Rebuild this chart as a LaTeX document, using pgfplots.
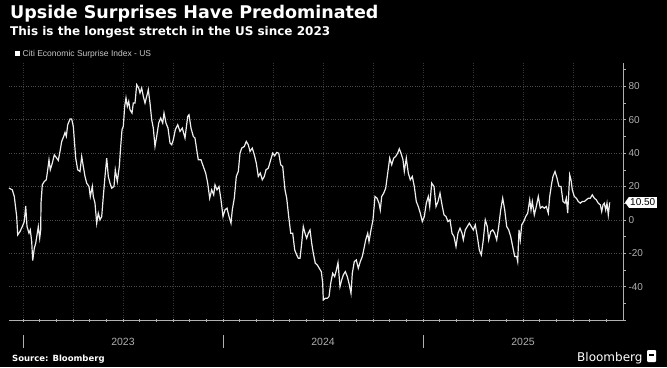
\documentclass[border=0pt]{standalone}
\usepackage{pgfplots}
\pgfplotsset{compat=1.18}
\usepackage{fontspec}
\setmainfont{Liberation Sans}
\newfontfamily\dejavu{DejaVu Sans}
\definecolor{hgridc}{HTML}{4A4A4A}
\definecolor{vgridc}{HTML}{353535}
\definecolor{tickc}{HTML}{B0B0B0}
\definecolor{linec}{HTML}{EEEEEE}
\definecolor{legc}{HTML}{C8C8C8}

\pgfplotstableread{
m v
-0.84 19
-0.642 18
-0.522 14
-0.378 2
-0.318 -9
-0.18 -7
-0.042 -4
0.078 -1
0.162 8.4
0.24 -4
0.36 -8
0.438 -6
0.522 -13
0.582 -24.4
0.678 -17
0.762 -14
0.858 -8
0.918 -4
1.002 -11
1.062 -6
1.08 10
1.158 21
1.278 23
1.398 24
1.482 30
1.56 36
1.638 30
1.758 34
1.878 39
2.022 37
2.118 35.6
2.22 41
2.322 47
2.442 50
2.52 52.4
2.598 50
2.682 57
2.82 60.4
2.922 60.4
3.018 56
3.162 37
3.282 30
3.42 29
3.522 38
3.618 32
3.72 26
3.822 22
3.96 20
4.038 14
4.158 20
4.218 14
4.32 10
4.422 -2
4.518 4
4.62 0
4.722 2
4.818 14
4.92 26
5.022 37
5.118 26
5.22 22
5.322 19
5.46 20
5.538 30
5.658 23
5.778 32
5.862 44
5.94 54
6.018 56
6.102 68
6.18 73
6.258 68
6.342 71
6.42 66
6.54 64
6.618 70
6.72 70
6.822 81
6.942 79
7.02 76
7.122 79
7.218 74
7.32 70
7.422 74
7.518 78
7.62 70
7.722 60
7.818 55
7.92 44
8.022 50
8.142 58
8.262 61
8.382 58
8.46 64
8.58 58
8.7 55
8.82 46
8.922 45
9.018 48
9.138 54
9.282 57
9.42 53
9.558 55
9.72 49
9.882 62
9.96 63
10.08 55
10.218 50
10.32 49
10.422 42
10.518 36
10.68 36
10.818 32
10.962 28
11.082 22
11.202 13
11.322 18
11.442 15
11.52 21
11.64 18
11.76 20
11.88 12
12.0 2
12.12 6
12.24 7
12.36 2
12.48 -2
12.558 6
12.678 13
12.798 26
12.918 29
13.02 40
13.122 43
13.278 44
13.398 47
13.518 45
13.62 41
13.758 43
13.878 39
13.998 34
14.118 26
14.238 28
14.358 24
14.478 26
14.58 30
14.718 31
14.862 36
14.982 40
15.102 38.4
15.222 40.4
15.342 40
15.462 33
15.582 32
15.72 18
15.822 13
15.942 2
16.062 -8
16.182 -8
16.302 -18
16.422 -21
16.518 -23
16.62 -23
16.722 -14
16.818 -4
16.92 -8
17.022 -11
17.118 -8
17.22 -6
17.322 -14
17.418 -20
17.538 -26
17.658 -27
17.778 -29
17.898 -31
17.982 -38
18.018 -48
18.138 -47
18.258 -47
18.36 -46
18.462 -38
18.582 -32
18.702 -34
18.78 -31
18.9 -25.6
19.02 -40
19.122 -36
19.218 -33
19.338 -31
19.458 -34
19.56 -38
19.68 -44
19.758 -32
19.878 -25
19.998 -24
20.118 -29
20.238 -25
20.358 -22
20.442 -18
20.562 -12
20.682 -8
20.76 -13
20.88 -6
21.0 0
21.12 14
21.24 13
21.36 10
21.438 6
21.522 14
21.642 16
21.762 19
21.882 28
22.002 37
22.122 33
22.242 37
22.362 38
22.482 40
22.578 42.6
22.68 40
22.8 36
22.878 29
22.998 37
23.118 28
23.238 24
23.358 26
23.478 20
23.598 11
23.718 8
23.838 4
23.958 -1
24.078 2
24.198 10
24.318 14
24.402 8
24.522 22
24.66 20
24.78 8
24.9 11
25.02 16
25.14 9
25.26 3
25.38 2
25.5 -1
25.62 0
25.74 -8
25.86 -10
25.98 -16
26.1 -8
26.22 -5
26.34 -8
26.418 -12
26.538 -6
26.658 -4
26.778 -2
26.898 -4
27.018 -6
27.138 -3
27.258 -10
27.378 -18
27.498 -21
27.618 -12
27.738 0
27.858 -4
27.942 -12
28.062 -7
28.182 -6
28.302 -8
28.422 -12
28.542 -4
28.662 6
28.782 13
28.902 6
29.022 -4
29.142 -6
29.262 -10
29.382 -16
29.502 -22
29.622 -22
29.682 -25
29.76 -6
29.838 -12
29.922 -3
30.042 -1
30.162 2
30.282 4
30.402 12
30.48 6
30.558 11
30.678 3
30.798 8
30.918 14
31.038 7
31.158 8
31.278 7
31.398 8
31.518 4
31.602 14
31.722 22
31.8 26
31.92 29
32.04 25
32.16 20
32.28 20
32.4 11
32.52 10
32.598 13
32.682 4
32.802 27
32.88 24
32.958 18
33.078 14
33.198 13
33.318 11
33.438 10
33.558 11
33.678 11
33.798 12
33.918 13
34.038 13
34.158 15
34.278 13
34.398 12
34.518 10
34.638 9
34.722 5
34.8 9
34.878 10
34.962 6
35.04 10
35.118 3
35.202 10.5
}\citidata

\begin{document}
\begin{tikzpicture}
\fill[black] (0pt,0pt) rectangle (667pt,-367pt);
\useasboundingbox (0pt,0pt) rectangle (667pt,-367pt);
\node[anchor=base west, text=white, inner sep=0, font=\dejavu\bfseries\fontsize{17.5}{20}\selectfont] at (10pt,-18.5pt) {Upside Surprises Have Predominated};
\node[anchor=base west, text=white, inner sep=0, font=\dejavu\bfseries\fontsize{12}{14}\selectfont] at (10pt,-35.5pt) {This is the longest stretch in the US since 2023};
\fill[white] (14.5pt,-50.5pt) rectangle (19.5pt,-55.5pt);
\node[anchor=base west, text=legc, inner sep=0, font=\fontsize{8.5}{10}\selectfont] at (22.5pt,-56.5pt) {Citi Economic Surprise Index - US};
\node[anchor=base west, text=white, inner sep=0, font=\dejavu\bfseries\fontsize{8.5}{10}\selectfont] at (12pt,-361pt) {Source: Bloomberg};
\node[anchor=base west, text=white, inner sep=0, font=\dejavu\fontsize{12}{14}\selectfont] at (577pt,-361pt) {Bloomberg};
\fill[white, rounded corners=1pt] (647pt,-350pt) rectangle (656pt,-362pt);
\fill[black] (649pt,-354pt) rectangle (654pt,-356pt);

\begin{axis}[
  at={(9pt,-320pt)}, anchor=south west,
  scale only axis, width=614pt, height=257pt,
  xmin=-0.84, xmax=36, ymin=-60, ymax=94,
  axis x line*=bottom, axis y line*=right,
  axis line style={tickc, line width=0.6pt},
  xtick={0,3,...,33}, xticklabels={},
  minor xtick={1,2,4,5,7,8,10,11,13,14,16,17,19,20,22,23,25,26,28,29,31,32,34,35},
  ytick={-40,-20,...,80},
  minor ytick={-60,-50,-30,-10,10,30,50,70,90},
  tick style={tickc, line width=0.5pt},
  major tick length=3pt, minor tick length=3pt,
  xtick align=center, ytick align=outside,
  xmajorgrids, ymajorgrids,
  major x grid style={vgridc, dotted, line width=0.6pt},
  major y grid style={hgridc, dotted, line width=0.7pt},
  /pgf/number format/assume math mode=true,
  yticklabel style={text=tickc, font=\fontsize{10}{12}\selectfont, xshift=-1pt},
  clip=false,
]
\addplot[linec, line width=1.2pt] table[x=m, y=v] {\citidata};
\foreach \yr in {0,12,24} {
  \edef\tmp{\noexpand\draw[tickc, line width=0.5pt] ([yshift=-15pt]axis cs:\yr,-60) -- ([yshift=-28pt]axis cs:\yr,-60);}
  \tmp
}
\node[text=tickc, font=\fontsize{10.5}{12}\selectfont] at ([yshift=-22pt]axis cs:6,-60) {2023};
\node[text=tickc, font=\fontsize{10.5}{12}\selectfont] at ([yshift=-22pt]axis cs:18,-60) {2024};
\node[text=tickc, font=\fontsize{10.5}{12}\selectfont] at ([yshift=-22pt]axis cs:30,-60) {2025};
\fill[white] ([xshift=2pt]axis cs:36,10.5) -- ([xshift=6pt,yshift=5.5pt]axis cs:36,10.5) -- ([xshift=6pt,yshift=-5.5pt]axis cs:36,10.5) -- cycle;
\node[fill=white, text=black, anchor=west, inner xsep=1.5pt, inner ysep=1.5pt, minimum height=11pt, font=\fontsize{10}{12}\selectfont] at ([xshift=5.5pt]axis cs:36,10.5) {10.50};
\end{axis}
\end{tikzpicture}
\end{document}
